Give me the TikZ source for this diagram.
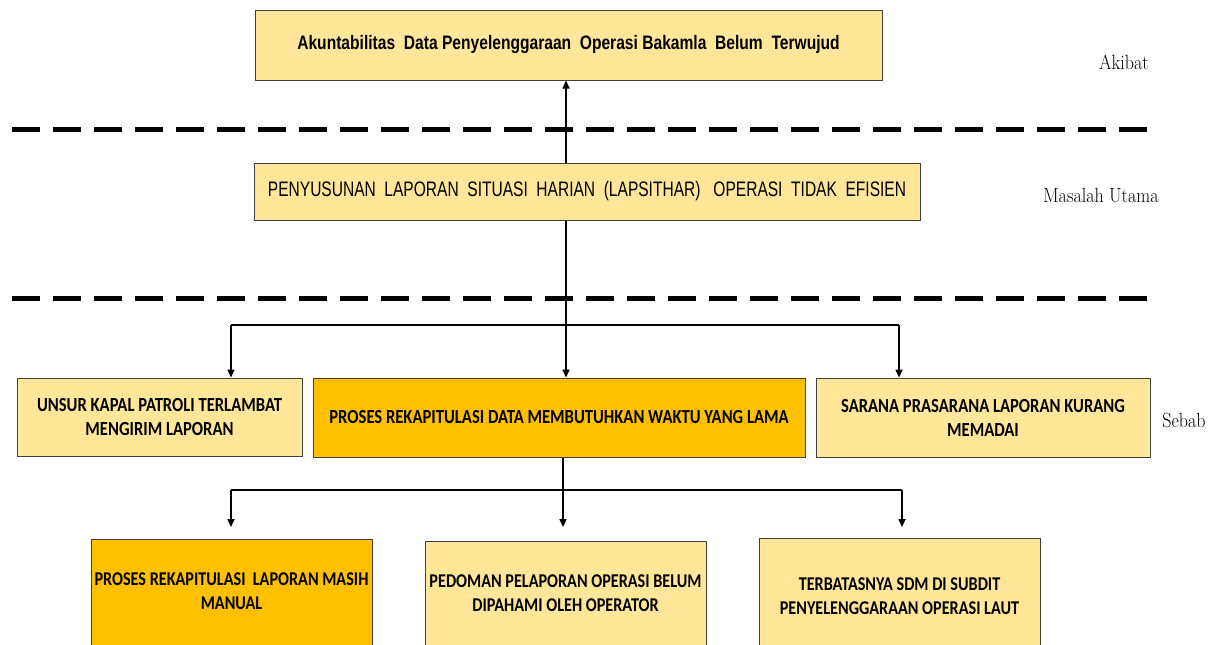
\documentclass[tikz,border=0pt]{standalone}
\usepackage{fontspec}
\usetikzlibrary{arrows.meta}
\newfontfamily\narrowfont[FakeStretch=0.80]{Liberation Sans}
\newfontfamily\narrowfontb[FakeStretch=0.74]{Liberation Sans}
\newfontfamily\calfont[FakeStretch=0.83]{Carlito}
\newfontfamily\lblfont[FakeStretch=0.88]{Latin Modern Roman}
\definecolor{lightyel}{HTML}{FFE699}
\definecolor{gold}{HTML}{FFC000}
\definecolor{edge}{HTML}{404040}
\tikzset{
  box/.style={draw=edge, line width=1pt, inner sep=0pt, rectangle},
  lightbox/.style={box, fill=lightyel},
  goldbox/.style={box, fill=gold},
  sidelabel/.style={font=\lblfont\fontsize{20.5}{24}\selectfont, inner sep=0pt},
  celltext/.style={font=\calfont\bfseries\fontsize{20}{24}\selectfont, align=center, inner sep=0pt},
  lowtext/.style={celltext, font=\calfont\bfseries\fontsize{19.5}{24}\selectfont},
  conn/.style={line width=1.6pt, black},
  arr/.style={conn, -{Triangle[length=8pt,width=7pt]}},
  sep/.style={line width=5pt, dash pattern=on 28pt off 13pt},
}
\begin{document}
\begin{tikzpicture}[x=1pt,y=-1pt]
\useasboundingbox (0,0) rectangle (1224,645);
\clip (0,0) rectangle (1224,645);
\fill[white] (0,0) rectangle (1224,645);

% dashed separators
\coordinate (s1a) at (12,129); \coordinate (s1b) at (1150,129);
\coordinate (s2a) at (12,298); \coordinate (s2b) at (1150,298);
\draw[sep] (s1a) -- (s1b);
\draw[sep] (s2a) -- (s2b);

% top boxes
\node[lightbox, minimum width=627pt, minimum height=70pt,
      font=\narrowfont\bfseries\fontsize{19.5}{23}\selectfont] (akibat) at (568.5,45)
  {Akuntabilitas\ \ Data Penyelenggaraan\ \ Operasi Bakamla\ \ Belum\ \ Terwujud};
\node[lightbox, minimum width=666pt, minimum height=57pt,
      font=\narrowfontb\fontsize{21}{24}\selectfont] (masalah) at (587,191.5)
  {PENYUSUNAN\ \ LAPORAN\ \ SITUASI\ \ HARIAN\ \ (LAPSITHAR)\ \ \ OPERASI\ \ TIDAK\ \ EFISIEN};

% side labels
\node[sidelabel] (lakibat) at (1124,62) {Akibat};
\node[sidelabel] (lmasalah) at (1101,196) {Masalah Utama};
\node[sidelabel] (lsebab) at (1184,420) {Sebab};

% row 3
\node[lightbox, minimum width=285pt, minimum height=78pt, celltext] (c1) at (159.5,417)
  {UNSUR KAPAL PATROLI TERLAMBAT\\MENGIRIM LAPORAN};
\node[goldbox, minimum width=492pt, minimum height=79pt, celltext] (c2) at (559,417.5)
  {PROSES REKAPITULASI DATA MEMBUTUHKAN WAKTU YANG LAMA};
\node[lightbox, minimum width=334pt, minimum height=79pt, celltext] (c3) at (983,417.5)
  {SARANA PRASARANA LAPORAN KURANG\\MEMADAI};

% row 4 boxes (extend beyond the lower edge)
\node[goldbox, anchor=north west, minimum width=281pt, minimum height=130pt] (d1) at (91,539) {};
\node[lightbox, anchor=north west, minimum width=281pt, minimum height=130pt] (d2) at (425,541) {};
\node[lightbox, anchor=north west, minimum width=281pt, minimum height=130pt] (d3) at (759,538) {};
\node[lowtext] (t1) at (231.5,591) {PROSES REKAPITULASI\ \ LAPORAN MASIH\\MANUAL};
\node[lowtext] (t2) at (565.5,593) {PEDOMAN PELAPORAN OPERASI BELUM\\DIPAHAMI OLEH OPERATOR};
\node[lowtext] (t3) at (899.5,596) {TERBATASNYA SDM DI SUBDIT\\PENYELENGGARAAN OPERASI LAUT};

% connectors
\draw[arr] (masalah.north -| 566,0) -- (akibat.south -| 566,0);
\coordinate (j1) at (566,325);
\coordinate (j1l) at (231,325);
\coordinate (j1r) at (899,325);
\draw[conn] (masalah.south -| 566,0) -- (j1);
\draw[conn] (j1l) -- (j1r);
\draw[arr] (j1l) -- (c1.north -| j1l);
\draw[arr] (j1) -- (c2.north -| j1);
\draw[arr] (j1r) -- (c3.north -| j1r);

\coordinate (j2) at (563,490);
\coordinate (j2l) at (231,490);
\coordinate (j2r) at (902,490);
\draw[conn] (c2.south -| j2) -- (j2);
\draw[conn] (j2l) -- (j2r);
\coordinate (e1) at (231,527);
\coordinate (e2) at (563,527);
\coordinate (e3) at (902,527);
\draw[arr] (j2l) -- (e1);
\draw[arr] (j2) -- (e2);
\draw[arr] (j2r) -- (e3);
\end{tikzpicture}
\end{document}
